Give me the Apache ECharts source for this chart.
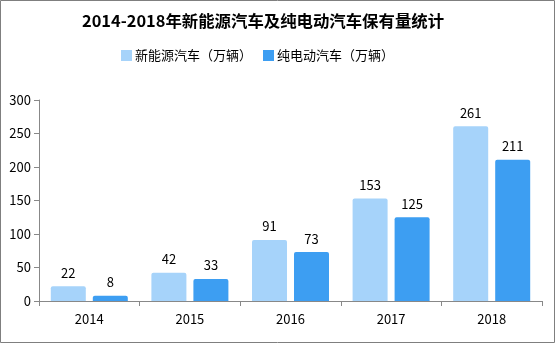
<!DOCTYPE html>
<html><head><meta charset="utf-8">
<script src="https://cdn.jsdelivr.net/npm/echarts@6/dist/echarts.min.js"></script>
<style>html,body{margin:0;padding:0;background:#fff}#c{width:556px;height:344px}</style>
</head><body><div id="c"></div>
<script>
var titleText = '2014-2018年新能源汽车及纯电动汽车保有量统计';
var categories = ['2014', '2015', '2016', '2017', '2018'];
var seriesNames = ['新能源汽车（万辆）', '纯电动汽车（万辆）'];
var nevValues = [22, 42, 91, 153, 261];
var evValues = [8, 33, 73, 125, 211];
var yTicks = [0, 50, 100, 150, 200, 250, 300];

var font = '"Noto Sans CJK SC", sans-serif';
var chart = echarts.init(document.getElementById('c'), null, {renderer: 'canvas'});
chart.setOption({
  animation: false,
  backgroundColor: '#fff',
  textStyle: {fontFamily: font},
  title: {
    text: titleText, left: 77, top: 8,
    textStyle: {fontSize: 16.4, fontWeight: 'bold', color: '#000', fontFamily: font}
  },
  legend: {
    top: 44, left: 116, itemWidth: 11, itemHeight: 11, itemGap: 11,
    icon: 'rect',
    textStyle: {fontSize: 13, color: '#000', fontFamily: font, padding: [0,0,0,-2]},
    data: seriesNames
  },
  graphic: [{
    type: 'rect', shape: {x: 0.5, y: 0.5, width: 554, height: 342},
    style: {fill: 'none', stroke: '#7f7f7f', lineWidth: 1}, silent: true
  }],
  grid: {left: 39, right: 14, top: 100, bottom: 43, containLabel: false},
  xAxis: {
    type: 'category', data: categories,
    axisLine: {lineStyle: {color: '#888', width: 1}},
    axisTick: {show: true, length: 5, lineStyle: {color: '#888'}},
    axisLabel: {color: '#000', fontSize: 13, margin: 12, fontFamily: font}
  },
  yAxis: {
    type: 'value', min: yTicks[0], max: yTicks[yTicks.length-1], interval: 50,
    axisLine: {show: true, lineStyle: {color: '#888'}},
    axisTick: {show: true, length: 5, lineStyle: {color: '#888'}},
    axisLabel: {color: '#000', fontSize: 13, margin: 8, fontFamily: font},
    splitLine: {show: false}
  },
  series: [{
    name: seriesNames[0], type: 'bar', data: nevValues, barWidth: 35, barGap: '20%',
    itemStyle: {color: '#A6D3FA', borderRadius: [2,2,0,0]},
    label: {show: true, position: 'top', distance: 7, color: '#000', fontSize: 13, fontFamily: font}
  }, {
    name: seriesNames[1], type: 'bar', data: evValues, barWidth: 35,
    itemStyle: {color: '#3D9EF2', borderRadius: [2,2,0,0]},
    label: {show: true, position: 'top', distance: 7, color: '#000', fontSize: 13, fontFamily: font}
  }]
});
</script></body></html>
